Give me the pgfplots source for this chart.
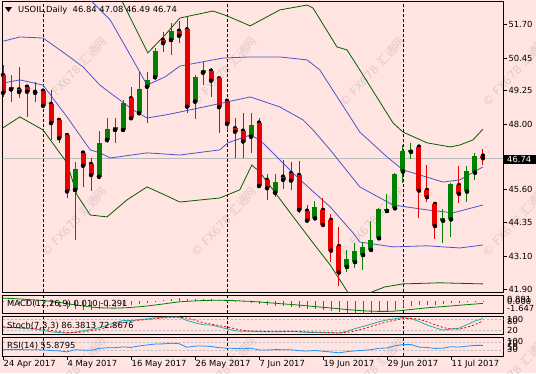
\documentclass[border=0pt]{standalone}
\usepackage{fontspec}
\setmainfont{DejaVu Sans}
\newfontfamily\cjk{Noto Sans CJK SC}
\usepackage{pgfplots}
\usepackage{pgfplotstable}
\pgfplotsset{compat=1.18}
\definecolor{bg}{RGB}{255,228,225}
\definecolor{bull}{RGB}{0,128,0}
\definecolor{bear}{RGB}{235,0,0}
\definecolor{bbg}{RGB}{0,95,0}
\definecolor{bbb}{RGB}{75,85,210}
\definecolor{macdh}{RGB}{138,43,226}
\definecolor{stk}{RGB}{32,178,170}
\definecolor{rsic}{RGB}{30,144,255}
\definecolor{wm}{RGB}{225,202,200}
\newcommand\f{\fontsize{8.4}{9}\selectfont}

\pgfplotstableread{
i o h l c
0 49.82 50.19 49.01 49.16
2 49.29 50.13 48.97 49.19
3 49.39 49.45 48.28 49.20
4 49.20 49.58 48.84 49.16
5 49.24 49.29 48.65 48.68
6 48.75 49.27 47.42 48.04
7 48.16 48.22 47.30 47.48
8 47.60 47.67 45.26 45.51
10 46.95 46.98 45.69 46.46
11 46.53 46.74 45.51 46.12
16 48.96 49.39 48.16 48.22
20 51.12 51.43 50.69 51.00
22 51.46 51.83 51.02 51.27
23 51.51 52.01 48.43 48.65
26 49.98 50.07 49.02 49.61
27 49.70 49.72 47.69 48.63
28 48.87 48.90 47.79 48.01
29 47.85 48.22 46.74 47.72
30 47.76 48.41 46.74 47.36
32 48.06 48.22 45.63 45.71
33 45.94 46.16 45.20 45.63
35 46.06 46.68 45.59 45.94
36 46.19 46.61 45.57 45.91
37 46.12 46.65 44.73 44.83
38 44.80 45.01 44.39 44.43
40 44.83 45.26 44.21 44.27
41 44.46 44.68 42.91 43.32
42 43.49 44.19 42.01 42.51
52 47.17 47.23 44.52 45.54
53 45.57 46.49 45.13 45.30
54 45.05 45.10 43.74 44.23
57 45.75 46.46 45.08 45.42
60 46.84 47.08 46.49 46.74
}\bears

\pgfplotstableread{
i o h l c
1 49.29 49.82 48.84 49.37
9 45.57 46.61 43.72 46.33
12 46.06 47.76 45.96 47.32
13 47.42 48.22 47.31 47.81
14 47.79 48.22 47.32 47.89
15 47.79 48.90 47.75 48.80
17 48.41 49.95 48.34 49.29
18 49.39 49.95 48.04 49.64
19 49.74 50.81 49.64 50.72
21 51.12 51.74 50.56 51.46
24 48.84 49.82 48.18 49.76
25 49.91 50.32 49.45 50.01
31 47.54 48.41 46.92 47.97
34 45.47 46.16 45.30 45.87
39 44.52 45.17 44.48 44.93
43 42.72 43.35 42.53 43.00
44 42.90 43.62 42.68 43.30
45 43.16 43.65 42.61 43.47
46 43.35 44.43 43.28 43.72
47 43.78 44.90 43.77 44.86
48 44.79 45.42 44.71 44.86
49 44.89 46.19 44.86 46.16
50 46.25 47.23 45.82 47.02
51 46.98 47.30 46.70 47.05
55 44.43 44.86 43.62 44.52
56 44.48 45.82 43.82 45.79
58 45.51 46.46 45.13 46.28
59 46.21 46.92 45.94 46.83
}\bulls

\pgfplotstableread{
i m s k d r
0 -0.15 0.45 35 40 33
1 -0.25 0.40 36 37 35
2 -0.33 0.34 33 35 34
3 -0.42 0.27 30 33 33
4 -0.50 0.19 27 30 33
5 -0.58 0.11 20 26 32
6 -0.70 0.00 12 20 29
7 -0.82 -0.14 8 13 27
8 -1.05 -0.32 5 8 22
9 -1.15 -0.50 10 8 33
10 -1.22 -0.66 18 11 31
11 -1.27 -0.80 25 18 30
12 -1.15 -0.90 35 26 40
13 -1.00 -0.95 50 37 43
14 -0.86 -0.96 62 49 44
15 -0.68 -0.92 75 62 48
16 -0.58 -0.86 75 71 45
17 -0.42 -0.77 80 77 53
18 -0.28 -0.66 84 80 58
19 -0.08 -0.52 90 85 63
20 0.12 -0.38 93 89 64
21 0.32 -0.22 95 93 67
22 0.45 -0.08 94 94 65
23 0.32 0.00 75 88 46
24 0.30 0.06 62 77 52
25 0.30 0.11 52 63 53
26 0.27 0.14 50 55 50
27 0.18 0.15 40 47 44
28 0.05 0.13 28 39 41
29 -0.05 0.09 18 29 40
30 -0.15 0.04 15 20 38
31 -0.20 -0.01 16 16 41
32 -0.38 -0.09 13 15 32
33 -0.52 -0.18 12 14 31
34 -0.62 -0.27 12 12 34
35 -0.70 -0.36 15 13 33
36 -0.77 -0.44 15 14 33
37 -0.92 -0.54 12 14 28
38 -1.05 -0.64 9 12 26
39 -1.12 -0.74 9 10 29
40 -1.22 -0.84 8 9 25
41 -1.35 -0.94 7 8 21
42 -1.50 -1.05 5 7 17
43 -1.58 -1.16 15 9 23
44 -1.62 -1.25 30 17 27
45 -1.647 -1.33 42 29 30
46 -1.60 -1.39 55 42 33
47 -1.50 -1.42 68 55 41
48 -1.40 -1.42 78 67 42
49 -1.22 -1.38 85 77 54
50 -0.85 -1.27 92 85 60
51 -0.65 -1.15 85 87 60
52 -0.55 -1.03 70 82 47
53 -0.48 -0.92 50 68 45
54 -0.45 -0.82 35 52 40
55 -0.42 -0.74 22 36 41
56 -0.30 -0.65 28 28 49
57 -0.22 -0.56 32 27 47
58 -0.12 -0.47 52 37 52
59 -0.04 -0.38 72 52 56
60 0.01 -0.291 86.38 72.87 55.88
}\ind

\pgfplotsset{
  /pgf/number format/assume math mode=true,
  panel/.style={scale only axis, width=500.6pt, xmin=-0.04, xmax=62.54,
    anchor=north west, axis line style={black, line width=0.9pt},
    xtick=\empty, ytick=\empty, clip mode=individual,
    extra x ticks={5,28,50}, extra x tick labels={,,},
    extra x tick style={grid=major, major tick length=0pt,
      major grid style={black, line width=0.8pt, dash pattern=on 3pt off 2pt}}},
  wick/.style={only marks, mark=none, forget plot, error bars/.cd, y dir=both, y explicit,
    error mark=none, error bar style={draw=#1, line width=1pt}},
  body/.style={only marks, mark=none, forget plot, error bars/.cd, y dir=plus, y explicit,
    error mark=none, error bar style={draw=#1, line width=5pt}},
}

\begin{document}
\begin{tikzpicture}
\fill[bg] (0pt,0pt) rectangle (536pt,-373pt);
\path[use as bounding box] (0pt,0pt) rectangle (536pt,-373pt);
\foreach \wx in {74,224,372,515}{
  \foreach \wy in {72,222,372}{
    \node[rotate=47, text=wm, font=\fontsize{11.5}{12}\selectfont] at (\wx pt,-\wy pt) {© FX678 {\cjk 汇通网}};
  }
}

% main price panel
\begin{axis}[panel, at={(2.7pt,-1pt)}, height=291pt, ymin=41.79, ymax=52.56,
  ytick={41.90,43.10,44.35,45.60,48.00,49.25,50.45,51.70},
  ytick pos=right, yticklabel pos=right, tick align=outside, major tick length=4pt,
  tick style={black, line width=0.8pt},
  yticklabel style={font=\f, inner sep=1pt, /pgf/number format/.cd, fixed, fixed zerofill, precision=2}]
\addplot[gray!55, line width=0.8pt] coordinates {(-1,46.74) (63,46.74)};
\addplot[bbg, line width=0.8pt] coordinates {(-0.4,54.45) (7.1,54.45) (12.1,53.71) (14.8,52.60) (18.1,50.64) (20.25,51.30) (22.1,51.93) (26.25,52.19) (28,52.01) (30.9,51.64) (34.6,52.23) (38,52.41) (38.75,52.30) (41.75,50.86) (43,50.75) (44.6,50.01) (48.75,48.05) (50,47.71) (53,47.31) (55.9,47.16) (57.1,47.23) (58.75,47.42) (60,47.82)};
\addplot[bbb, line width=0.8pt] coordinates {(-0.4,52.67) (5,52.9) (8,52.9) (10.9,52.60) (13.4,51.86) (16.25,50.38) (18,49.45) (20.25,49.75) (22.1,50.15) (27.5,50.45) (30.9,50.49) (34.6,50.49) (38,50.38) (39.6,50.01) (42.1,48.86) (44.6,47.71) (48,46.79) (50,46.31) (55,45.86) (57.1,45.94) (60,46.42)};
\addplot[bbb, line width=0.8pt] coordinates {(-0.4,51.04) (2.1,51.23) (5,51.19) (8,50.56) (10,50.12) (12.1,49.45) (13.4,49.16) (16.25,48.53) (18,48.23) (20.25,48.34) (22.1,48.45) (27.5,48.79) (30.9,49.01) (34.6,48.64) (37.5,48.16) (38.75,47.79) (40.9,47.05) (44.6,45.68) (48.75,45.01) (53,44.83) (56.25,44.72) (60,45.01)};
\addplot[bbb, line width=0.8pt] coordinates {(-0.4,49.5) (2.1,49.64) (5,49.45) (8,48.27) (10.9,47.05) (12.1,46.94) (13.4,46.75) (18,46.94) (22.1,46.86) (27.1,47.05) (28.1,47.31) (30.9,47.60) (32.1,47.42) (36.75,46.05) (40.9,44.94) (43.75,43.98) (44.6,43.64) (48.75,43.46) (53,43.50) (57.1,43.42) (60,43.53)};
\addplot[bbg, line width=0.8pt] coordinates {(-0.4,47.79) (2.1,48.27) (5,47.79) (8,46.57) (9.25,45.38) (10.9,44.64) (13,44.57) (15.5,45.20) (18,45.68) (20.25,45.38) (22.1,45.12) (27.1,45.27) (29.6,45.57) (31.1,46.49) (32.1,46.23) (35.9,44.72) (38.75,43.61) (40.9,42.79) (42.1,42.24) (43.4,41.64) (44.6,41.42) (46.1,41.79) (47.75,41.98) (50,42.09) (54.6,42.13) (60,42.09)};
\addplot[wick=bear] table[x=i, y=o, y error plus expr=\thisrow{h}-\thisrow{o}, y error minus expr=\thisrow{o}-\thisrow{l}] {\bears};
\addplot[body=bear] table[x=i, y=c, y error plus expr=\thisrow{o}-\thisrow{c}] {\bears};
\addplot[wick=bull] table[x=i, y=o, y error plus expr=\thisrow{h}-\thisrow{o}, y error minus expr=\thisrow{o}-\thisrow{l}] {\bulls};
\addplot[body=bull] table[x=i, y=o, y error plus expr=\thisrow{c}-\thisrow{o}] {\bulls};
\end{axis}

% MACD
\begin{axis}[panel, at={(2.7pt,-295pt)}, height=18pt, ymin=-1.647, ymax=0.891]
\addplot[ycomb, macdh, line width=0.9pt, mark=none] table[x=i, y=m] {\ind};
\addplot[bull, line width=0.8pt, mark=none] table[x=i, y=s] {\ind};
\end{axis}

% Stochastic
\begin{axis}[panel, at={(2.7pt,-316pt)}, height=18pt, ymin=0, ymax=100]
\addplot[gray!55, line width=0.6pt, dash pattern=on 2pt off 2pt] coordinates {(-1,20) (63,20)};
\addplot[gray!55, line width=0.6pt, dash pattern=on 2pt off 2pt] coordinates {(-1,80) (63,80)};
\addplot[stk, line width=0.8pt, mark=none] table[x=i, y=k] {\ind};
\addplot[bear, line width=0.8pt, mark=none, dash pattern=on 2pt off 2pt] table[x=i, y=d] {\ind};
\end{axis}

% RSI
\begin{axis}[panel, at={(2.7pt,-337pt)}, height=19pt, ymin=0, ymax=100,
  xtick={0,8,16,24,32,40,48,56},
  xticklabels={24 Apr 2017,4 May 2017,16 May 2017,26 May 2017,7 Jun 2017,19 Jun 2017,29 Jun 2017,11 Jul 2017},
  xtick pos=bottom, tick align=outside, major tick length=4pt, tick style={black, line width=0.8pt},
  xticklabel style={font=\f, anchor=north west, inner sep=0pt, xshift=0.5pt}]
\addplot[gray!55, line width=0.6pt, dash pattern=on 2pt off 2pt] coordinates {(-1,30) (63,30)};
\addplot[gray!55, line width=0.6pt, dash pattern=on 2pt off 2pt] coordinates {(-1,70) (63,70)};
\addplot[rsic, line width=0.8pt, mark=none] table[x=i, y=r] {\ind};
\end{axis}

% labels
\fill[black] (5pt,-7pt) -- (12pt,-7pt) -- (8.5pt,-12pt) -- cycle;
\node[anchor=west, font=\f, inner sep=0pt] at (18pt,-10pt) {USOIL,Daily\ \ 46.84 47.08 46.49 46.74};
\node[anchor=west, font=\f, inner sep=0pt] at (7pt,-304pt) {MACD(12,26,9) 0.010 -0.291};
\node[anchor=west, font=\f, inner sep=0pt] at (7pt,-325.5pt) {Stoch(7,3,3) 86.3813 72.8676};
\node[anchor=west, font=\f, inner sep=0pt] at (7pt,-346pt) {RSI(14) 55.8795};
\fill[black] (503.3pt,-154.8pt) rectangle (536pt,-163.8pt);
\node[anchor=west, font=\f, inner sep=0pt, text=white] at (507pt,-159.3pt) {46.74};
\node[anchor=west, font=\f, inner sep=0pt] at (507pt,-299pt) {0.891};
\node[anchor=west, font=\f, inner sep=0pt] at (507pt,-301.5pt) {0.000};
\node[anchor=west, font=\f, inner sep=0pt] at (507pt,-308.5pt) {-1.647};
\node[anchor=west, font=\f, inner sep=0pt] at (507pt,-319pt) {100};
\node[anchor=west, font=\f, inner sep=0pt] at (507pt,-321pt) {80};
\node[anchor=west, font=\f, inner sep=0pt] at (507pt,-330pt) {20};
\node[anchor=west, font=\f, inner sep=0pt] at (507pt,-341pt) {100};
\node[anchor=west, font=\f, inner sep=0pt] at (507pt,-343pt) {70};
\node[anchor=west, font=\f, inner sep=0pt] at (507pt,-347pt) {50};
\node[anchor=west, font=\f, inner sep=0pt] at (507pt,-349.5pt) {30};
\end{tikzpicture}
\end{document}
